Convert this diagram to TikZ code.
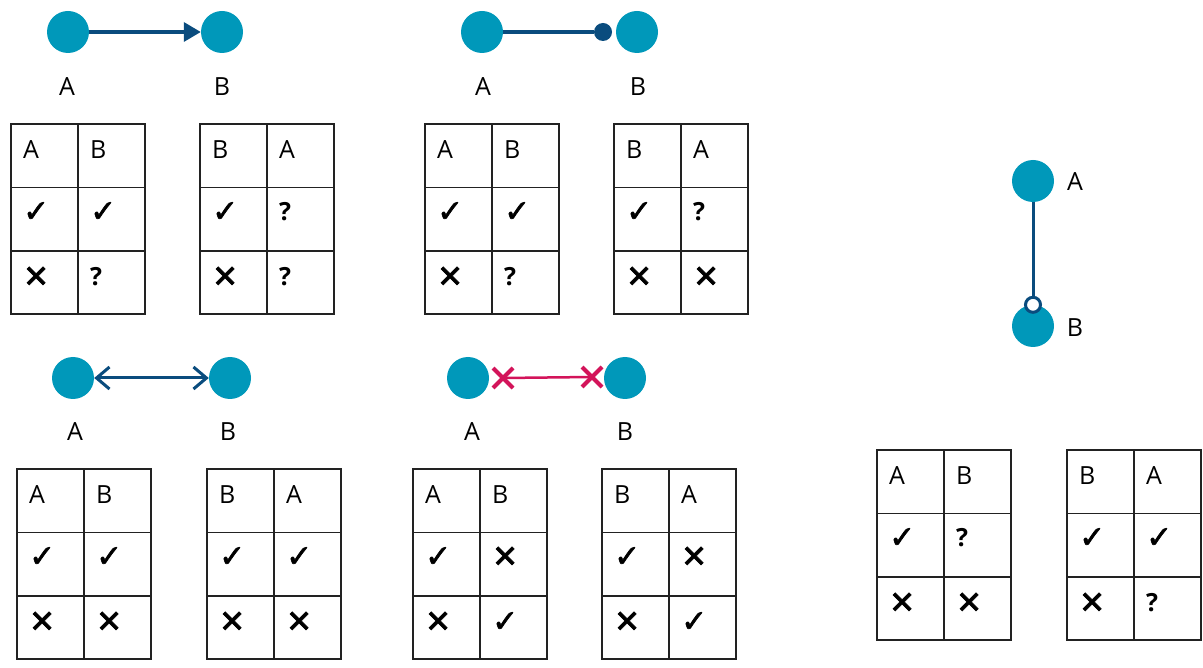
\documentclass[tikz,border=0pt]{standalone}
\usepackage{fontspec}
\setmainfont{Open Sans}
\newfontfamily\symfont[FakeBold=2]{DejaVu Sans}
\usetikzlibrary{arrows.meta,shapes.misc}
\definecolor{vertexteal}{HTML}{0098BA}
\definecolor{edgeblue}{HTML}{0A4C7E}
\definecolor{cutred}{HTML}{D3145A}
\definecolor{gridgray}{HTML}{222222}
\tikzset{line width=1pt,
  every node/.style={font=\fontsize{25}{29}\selectfont},
  vertex/.style={circle,fill=vertexteal,minimum size=42pt,inner sep=0pt},
  vlabel/.style={inner sep=0pt},
  link/.style={draw=edgeblue,line width=3.5pt},
  cutlink/.style={draw=cutred,line width=2.5pt},
  cutmark/.style={cross out,draw=cutred,line width=4pt,minimum size=16pt,inner sep=0pt},
  enddot/.style={circle,fill=edgeblue,minimum size=18pt,inner sep=0pt},
  opendot/.style={circle,draw=edgeblue,fill=white,line width=3pt,minimum size=15pt,inner sep=0pt},
  tablegrid/.style={draw=gridgray,line width=1.6pt},
  celltext/.style={anchor=west,inner sep=0pt}}
\newcommand\yes{{\symfont\fontsize{31}{31}\selectfont ✓}}
\newcommand\no{{\symfont\fontsize{31}{31}\selectfont ✕}}
\newcommand\unk{{\bfseries ?}}
% #1 name, (#2,#3) top left corner, #4..#9 cells row by row
\newcommand\truthtable[9]{%
  \draw[tablegrid] (#2,#3) rectangle ++(134,190) (#2+67,#3) -- ++(0,190)
    (#2,#3+63.5) -- ++(134,0) (#2,#3+127) -- ++(134,0);
  \node[celltext] (#1-11) at (#2+12,#3+26) {#4};\node[celltext] (#1-12) at (#2+79,#3+26) {#5};
  \node[celltext] (#1-21) at (#2+12,#3+88) {#6};\node[celltext] (#1-22) at (#2+79,#3+88) {#7};
  \node[celltext] (#1-31) at (#2+12,#3+153) {#8};\node[celltext] (#1-32) at (#2+79,#3+153) {#9};}
\begin{document}
\begin{tikzpicture}[x=1pt,y=-1pt]
\useasboundingbox (0,0) rectangle (1203,668);
% directed
\node[vertex] (dA) at (68,32) {};\node[vertex] (dB) at (222,32) {};
\node[vlabel] (dAl) at (67,87) {A};\node[vlabel] (dBl) at (222,87) {B};
\draw[link,-{Triangle[length=17pt,width=19pt]}] (dA) -- (dB);
\truthtable{d1}{11}{124}{A}{B}{\yes}{\yes}{\no}{\unk}
\truthtable{d2}{200}{124}{B}{A}{\yes}{\unk}{\no}{\unk}
% dot end
\node[vertex] (pA) at (482,32) {};\node[vertex] (pB) at (637,32) {};
\node[enddot] (pD) at (603,32) {};
\node[vlabel] (pAl) at (483,87) {A};\node[vlabel] (pBl) at (638,87) {B};
\draw[link] (pA) -- (pD);
\truthtable{p1}{425}{124}{A}{B}{\yes}{\yes}{\no}{\unk}
\truthtable{p2}{614}{124}{B}{A}{\yes}{\unk}{\no}{\no}
% both ways
\node[vertex] (bA) at (73,378) {};\node[vertex] (bB) at (230,378) {};
\node[vlabel] (bAl) at (75,432) {A};\node[vlabel] (bBl) at (228,432) {B};
\draw[link,line width=3pt,{Straight Barb[length=13pt,width=22pt]}-{Straight Barb[length=13pt,width=22pt]}] (bA) -- (bB);
\truthtable{b1}{17}{469}{A}{B}{\yes}{\yes}{\no}{\no}
\truthtable{b2}{207}{469}{B}{A}{\yes}{\yes}{\no}{\no}
% exclusive
\node[vertex] (xA) at (468,378) {};\node[vertex] (xB) at (625,378) {};
\node[cutmark] (xMa) at (503,378) {};\node[cutmark] (xMb) at (592,377) {};
\node[vlabel] (xAl) at (472,432) {A};\node[vlabel] (xBl) at (625,432) {B};
\draw[cutlink] (xMa.center) -- (xMb.center);
\truthtable{x1}{413}{469}{A}{B}{\yes}{\no}{\no}{\yes}
\truthtable{x2}{602}{469}{B}{A}{\yes}{\no}{\no}{\yes}
% vertical, open end
\node[vertex] (vA) at (1033,181) {};\node[vertex] (vB) at (1033,326) {};
\node[opendot] (vO) at (vB.north) {};
\node[vlabel] (vAl) at (1075,182) {A};\node[vlabel] (vBl) at (1075,328) {B};
\draw[link,line width=3pt] (vA) -- (vO);
\truthtable{v1}{877}{450}{A}{B}{\yes}{\unk}{\no}{\no}
\truthtable{v2}{1067}{450}{B}{A}{\yes}{\yes}{\no}{\unk}
\end{tikzpicture}
\end{document}
